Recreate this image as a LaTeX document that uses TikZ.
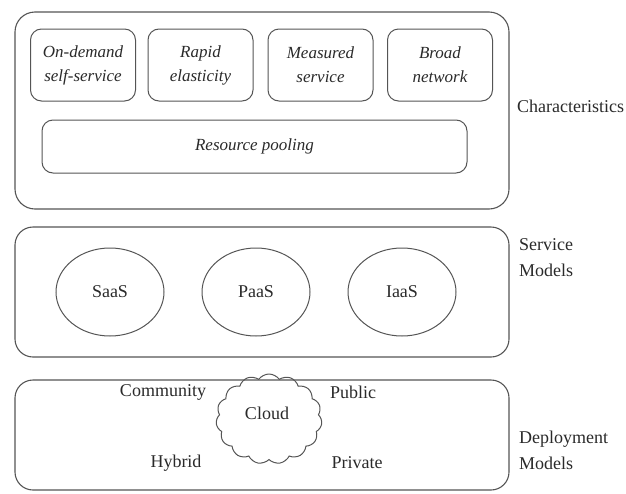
\documentclass[tikz,border=0pt]{standalone}
\usepackage{fontspec}
\setmainfont{Liberation Serif}
\usetikzlibrary{shapes.geometric,shapes.symbols}
\definecolor{ln}{HTML}{555555}
\definecolor{tx}{HTML}{2A2A2A}
\begin{document}
\begin{tikzpicture}[x=1pt,y=-1pt,
  bigbox/.style={draw=ln, line width=1.1pt, rounded corners=20pt, inner sep=0pt},
  smallbox/.style={draw=ln, line width=1pt, rounded corners=11pt, inner sep=0pt,
    minimum width=105pt, minimum height=72pt, align=center, text=tx,
    font=\fontsize{17}{24}\selectfont\itshape},
  oval/.style={draw=ln, line width=1pt, ellipse, minimum width=108pt, minimum height=88pt,
    inner sep=0pt, text=tx, font=\fontsize{18}{24}\selectfont},
  lbl/.style={text=tx, font=\fontsize{18}{26}\selectfont, align=left, inner sep=0pt},
  dlbl/.style={text=tx, font=\fontsize{18}{24}\selectfont, inner sep=0pt}]
\useasboundingbox (0,0) rectangle (626,493);
% Characteristics
\node[bigbox, minimum width=494pt, minimum height=197pt] (char) at (262,110.5) {};
\node[smallbox] (c1) at (83,65) {On-demand\\self-service};
\node[smallbox] (c2) at (200.5,65) {Rapid\\elasticity};
\node[smallbox] (c3) at (320.5,65) {Measured\\service};
\node[smallbox] (c4) at (440,65) {Broad\\network};
\node[smallbox, minimum width=425pt, minimum height=53pt] (rp) at (254.5,146.5) {Resource pooling};
\node[lbl, anchor=west] (charl) at (517,106) {Characteristics};
% Service models
\node[bigbox, rounded corners=18pt, minimum width=494pt, minimum height=130pt] (serv) at (262,292) {};
\node[oval] (saas) at (110,292) {SaaS};
\node[oval] (paas) at (256,292) {PaaS};
\node[oval] (iaas) at (402,292) {IaaS};
\node[lbl, anchor=west] (servl) at (519,258) {Service\\Models};
% Deployment models
\node[bigbox, rounded corners=18pt, minimum width=494pt, minimum height=110pt] (dep) at (262,435) {};
\node[cloud, draw=ln, line width=1pt, cloud puffs=15, cloud puff arc=110, aspect=1.15,
  minimum width=106pt, minimum height=90pt, inner sep=0pt, text=tx,
  font=\fontsize{18}{24}\selectfont] (cloud) at (269,419) {};
\node[dlbl] (cloudt) at (267,413) {Cloud};
\node[dlbl] (comm) at (163,392) {Community};
\node[dlbl] (pub) at (353,392) {Public};
\node[dlbl] (hyb) at (176,463) {Hybrid};
\node[dlbl] (priv) at (357,463) {Private};
\node[lbl, anchor=west] (depl) at (519,450) {Deployment\\Models};
\end{tikzpicture}
\end{document}
